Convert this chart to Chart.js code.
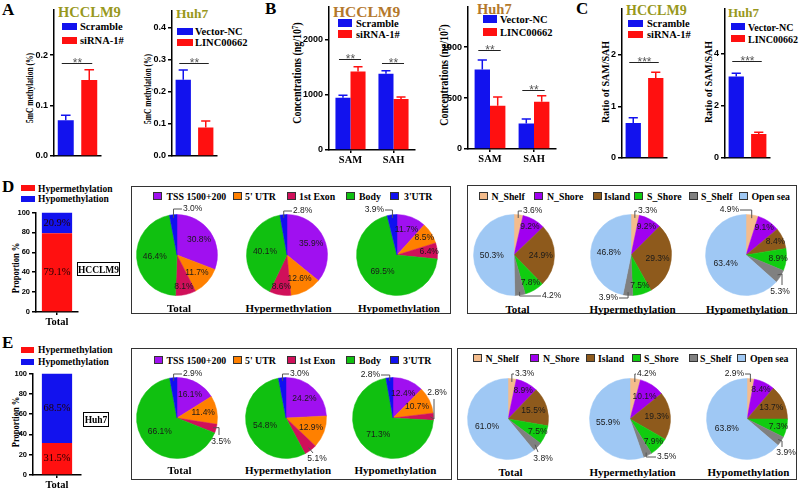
<!DOCTYPE html>
<html><head><meta charset="utf-8">
<script src="https://cdn.jsdelivr.net/npm/chart.js@4.4.1/dist/chart.umd.min.js"></script>
<style>
html,body{margin:0;padding:0;background:#fff;}
#root{position:relative;width:800px;height:488px;overflow:hidden;background:#fff;}
.abs{position:absolute;white-space:nowrap;line-height:1;}
canvas{position:absolute;}
sup{font-size:65%;vertical-align:0.45em;line-height:0;}
</style></head><body><div id="root"></div>
<script>
// ================= DATA =================
// Panel A: 5mC methylation (%)
const aGroupsHCCLM9 = ['Scramble', 'siRNA-1#'];
const aMeanHCCLM9 = [0.071, 0.151];
const aSdHCCLM9 = [0.010, 0.020];
const aSigHCCLM9 = [0.184];
const aTicksHCCLM9 = [0, 0.1, 0.2];
const aGroupsHuh7 = ['Vector-NC', 'LINC00662'];
const aMeanHuh7 = [0.238, 0.089];
const aSdHuh7 = [0.031, 0.020];
const aSigHuh7 = [0.292];
const aTicksHuh7 = [0, 0.1, 0.2, 0.3, 0.4];
// Panel B: concentrations (ng/10^7)
const bCats = ['SAM', 'SAH'];
const bScrambleHCCLM9 = [948, 1387];
const bScrambleSdHCCLM9 = [45, 55];
const bSiRNAHCCLM9 = [1428, 925];
const bSiRNASdHCCLM9 = [85, 40];
const bSigHCCLM9 = [1660, 1580];
const bTicksHCCLM9 = [0, 1000, 2000];
const bVectorHuh7 = [780, 250];
const bVectorSdHuh7 = [95, 45];
const bLincHuh7 = [425, 465];
const bLincSdHuh7 = [85, 58];
const bSigHuh7 = [968, 580];
const bTicksHuh7 = [0, 500, 1000];
// Panel C: ratio of SAM/SAH
const cMeanHCCLM9 = [0.68, 1.55];
const cSdHCCLM9 = [0.10, 0.11];
const cSigHCCLM9 = [1.86];
const cTicksHCCLM9 = [0, 1, 2];
const cMeanHuh7 = [3.12, 0.92];
const cSdHuh7 = [0.13, 0.07];
const cSigHuh7 = [3.72];
const cTicksHuh7 = [0, 2, 4];
// Panels D/E: proportion %
const stackCats = ['Total'];
const dHyper = [79.1];
const dHypo = [20.9];
const eHyper = [31.5];
const eHypo = [68.5];
const propTicks = [0, 20, 40, 60, 80, 100];
// Pies
const regionLabels = ['TSS 1500+200', "5' UTR", '1st Exon', 'Body', "3'UTR"];
const cpgLabels = ['N_Shelf', 'N_Shore', 'Island', 'S_Shore', 'S_Shelf', 'Open sea'];
const pieTitles = ['Total', 'Hypermethylation', 'Hypomethylation'];
const dRegionTotal = [30.8, 11.7, 8.1, 46.4, 3.0];
const dRegionHyper = [35.9, 12.6, 8.6, 40.1, 2.8];
const dRegionHypo  = [11.7, 8.5, 6.4, 69.5, 3.9];
const dCpgTotal = [3.6, 9.2, 24.9, 7.8, 4.2, 50.3];
const dCpgHyper = [3.3, 9.2, 29.3, 7.5, 3.9, 46.8];
const dCpgHypo  = [4.9, 9.1, 8.4, 8.9, 5.3, 63.4];
const eRegionTotal = [16.1, 11.4, 3.5, 66.1, 2.9];
const eRegionHyper = [24.2, 12.9, 5.1, 54.8, 3.0];
const eRegionHypo  = [12.4, 10.7, 2.8, 71.3, 2.8];
const eCpgTotal = [3.3, 8.9, 15.5, 7.5, 3.8, 61.0];
const eCpgHyper = [4.2, 10.1, 19.3, 7.9, 3.5, 55.9];
const eCpgHypo  = [2.9, 8.4, 13.7, 7.3, 3.9, 63.8];

// ================= STYLE =================
const SERIF = '"Liberation Serif","Times New Roman",serif';
const SANS = '"Liberation Sans",Arial,sans-serif';
const BLUE = '#1212EE', RED = '#FF1010';
const OLIVE = '#98981C', BROWN = '#B4782C';
const regionColors = ['#A010F0', '#FF8000', '#D0105A', '#10C010', '#1010F0'];
const cpgColors = ['#F4BC8C', '#A000F0', '#8E5A1C', '#10CC10', '#808080', '#9FC8F4'];
Chart.defaults.animation = false;
Chart.defaults.font.family = SANS;

const root = document.getElementById('root');
function txt(x, base, s, o = {}) {
  const size = o.size || 10, serif = o.serif !== false;
  const d = document.createElement('div'); d.className = 'abs';
  d.style.font = `${o.weight || 'bold'} ${size}px ${serif ? SERIF : SANS}`;
  d.style.color = o.color || '#000';
  d.innerHTML = s;
  d.style.top = (base - (serif ? 0.8375 : 0.8465) * size) + 'px';
  if (o.align === 'center') { d.style.left = x + 'px'; d.style.transform = 'translateX(-50%)'; }
  else d.style.left = x + 'px';
  root.appendChild(d); return d;
}
function vtxt(cx, cy, s, size, sy) {
  const d = document.createElement('div'); d.className = 'abs';
  d.style.font = `bold ${size}px ${SERIF}`;
  d.innerHTML = s;
  d.style.left = cx + 'px'; d.style.top = cy + 'px';
  d.style.transform = `translate(-50%,-50%) rotate(-90deg) scaleY(${sy || 1})`;
  root.appendChild(d);
}
function rect(x, y, w, h, bg, border) {
  const d = document.createElement('div'); d.className = 'abs';
  Object.assign(d.style, {left: x + 'px', top: y + 'px', width: w + 'px', height: h + 'px', boxSizing: 'border-box', background: bg || 'transparent'});
  if (border) d.style.border = border;
  root.appendChild(d); return d;
}
function makeCanvas(left, top, w, h) {
  const cv = document.createElement('canvas');
  cv.width = w; cv.height = h;
  Object.assign(cv.style, {left: left + 'px', top: top + 'px', width: w + 'px', height: h + 'px'});
  root.appendChild(cv); return cv;
}

// ================= PLUGINS =================
const errPlugin = {
  id: 'errsig',
  afterDatasetsDraw(chart, args, opts) {
    const ctx = chart.ctx, ys = chart.scales.y;
    chart.data.datasets.forEach((ds, di) => {
      if (!ds.err) return;
      chart.getDatasetMeta(di).data.forEach((bar, i) => {
        const yTop = ys.getPixelForValue(ds.data[i] + ds.err[i]);
        const cw = bar.width * 0.6;
        ctx.save(); ctx.strokeStyle = ds.backgroundColor; ctx.lineWidth = 1.5;
        ctx.beginPath();
        ctx.moveTo(bar.x, bar.y); ctx.lineTo(bar.x, yTop);
        ctx.moveTo(bar.x - cw / 2, yTop); ctx.lineTo(bar.x + cw / 2, yTop);
        ctx.stroke(); ctx.restore();
      });
    });
    (opts.sig || []).forEach((lvl, ci) => {
      const b0 = chart.getDatasetMeta(0).data[ci], b1 = chart.getDatasetMeta(1).data[ci];
      const y = Math.round(ys.getPixelForValue(lvl)) + 0.5;
      ctx.save(); ctx.strokeStyle = '#222'; ctx.lineWidth = 1;
      ctx.beginPath(); ctx.moveTo(b0.x - 4, y); ctx.lineTo(b1.x + 3, y); ctx.stroke();
      ctx.fillStyle = '#555'; ctx.font = '12px ' + SANS; ctx.textAlign = 'center'; ctx.textBaseline = 'alphabetic';
      ctx.fillText(opts.stars[ci], (b0.x + b1.x) / 2, y + 3);
      ctx.restore();
    });
  }
};
const segPlugin = {
  id: 'seglabels',
  afterDatasetsDraw(chart) {
    const ctx = chart.ctx;
    chart.data.datasets.forEach((ds, di) => {
      chart.getDatasetMeta(di).data.forEach((bar, i) => {
        ctx.save(); ctx.fillStyle = '#200'; ctx.font = '10.5px ' + SERIF;
        ctx.textAlign = 'center'; ctx.textBaseline = 'middle';
        ctx.fillText(ds.data[i].toFixed(1) + '%', bar.x, (bar.y + bar.base) / 2);
        ctx.restore();
      });
    });
  }
};
const pieLabelPlugin = {
  id: 'pielab',
  afterDatasetsDraw(chart, args, opts) {
    const ctx = chart.ctx, data = chart.data.datasets[0].data, outs = opts.outside || {};
    chart.getDatasetMeta(0).data.forEach((arc, i) => {
      const p = arc.getProps(['x', 'y', 'startAngle', 'endAngle', 'outerRadius'], true);
      const mid = (p.startAngle + p.endAngle) / 2, r = p.outerRadius;
      const s = data[i].toFixed(1) + '%';
      ctx.save(); ctx.font = '8.5px ' + SANS; ctx.fillStyle = '#1a1a1a'; ctx.textBaseline = 'middle';
      const o = outs[i];
      if (!o) {
        const f = data[i] > 40 ? 0.55 : (data[i] < 10 ? 0.8 : 0.66);
        ctx.textAlign = 'center';
        ctx.fillText(s, p.x + Math.cos(mid) * r * f, p.y + Math.sin(mid) * r * f);
      } else {
        const ax = p.x + Math.cos(mid) * r * 0.92, ay = p.y + Math.sin(mid) * r * 0.92;
        const tx = p.x + o.tx, ty = p.y + o.ty;
        ctx.strokeStyle = '#555'; ctx.lineWidth = 1;
        ctx.beginPath(); ctx.moveTo(ax, ay);
        if (o.m === 'vh') {
          ctx.lineTo(ax, ty); ctx.lineTo(o.a === 'left' ? tx - 1 : tx + 1, ty);
        } else {
          o.pts.forEach(q => ctx.lineTo(p.x + q[0], p.y + q[1]));
        }
        ctx.stroke();
        ctx.textAlign = o.a;
        ctx.fillText(s, tx, ty);
      }
      ctx.restore();
    });
  }
};

// ================= CHART BUILDERS =================
function barChart(o) {
  const yW = o.yW || 30, padTop = 6, padR = 10, xH = 18;
  const left = o.x0 - yW, top = o.yTop - padTop;
  const w = o.x1 + padR - left, h = o.yBot + xH - top;
  const cv = makeCanvas(left, top, w, h);
  new Chart(cv, {
    type: 'bar',
    data: {labels: o.labels, datasets: o.datasets.map(d => ({
      data: d.data, err: d.err, backgroundColor: d.color, borderWidth: 0,
      categoryPercentage: o.cp, barPercentage: o.bp, stack: o.stacked ? 's' : undefined}))},
    options: {
      responsive: false, devicePixelRatio: 1, animation: false,
      layout: {padding: {left: 0, top: padTop, right: padR, bottom: 0}},
      plugins: {legend: {display: false}, tooltip: {enabled: false}, errsig: {sig: o.sig || [], stars: o.stars || []}},
      scales: {
        x: {
          stacked: !!o.stacked,
          grid: {display: !!o.showX, offset: false, drawOnChartArea: false, drawTicks: true, tickLength: 3, color: '#000', lineWidth: 1.5},
          border: {display: true, color: '#000', width: 1.5},
          ticks: {display: !!o.showX, font: {family: SERIF, weight: 'bold', size: o.xFont || 10.5}, color: '#000', padding: 1, maxRotation: 0},
          afterFit(s) { s.height = xH; }
        },
        y: {
          stacked: !!o.stacked, min: 0, max: o.max,
          grid: {drawOnChartArea: false, drawTicks: true, tickLength: 4, color: '#000', lineWidth: 1.5},
          border: {display: true, color: '#000', width: 1.5},
          ticks: {font: {family: SANS, weight: 'bold', size: o.yFont || 9}, color: '#000', padding: 2,
            callback: v => v.toFixed(o.dec || 0)},
          afterBuildTicks(s) { s.ticks = o.ticks.map(v => ({value: v})); },
          afterFit(s) { s.width = yW; }
        }
      }
    },
    plugins: o.stacked ? [segPlugin] : [errPlugin]
  });
}
function pie(cx, cy, values, colors, outside) {
  const W = 130, H = 116;
  const cv = makeCanvas(cx - W / 2, cy - H / 2, W, H);
  new Chart(cv, {
    type: 'pie',
    data: {labels: values.map((_, i) => i), datasets: [{data: values, backgroundColor: colors, borderColor: colors, borderWidth: 0.5}]},
    options: {responsive: false, devicePixelRatio: 1, animation: false, radius: 40.5,
      layout: {padding: 0},
      plugins: {legend: {display: false}, tooltip: {enabled: false}, pielab: {outside}}},
    plugins: [pieLabelPlugin]
  });
}
function legend(items, base, size) {
  items.forEach(it => {
    rect(it.sx, base - 7.5, 9, 8, it.color, '1px solid #333');
    txt(it.tx, base, it.label, {size});
  });
}

// ================= PANEL LETTERS & TITLES =================
txt(2, 14, 'A', {size: 17}); txt(265, 13, 'B', {size: 17}); txt(576, 13, 'C', {size: 17});
txt(2, 191, 'D', {size: 17}); txt(2, 347, 'E', {size: 17});
txt(58, 16.5, 'HCCLM9', {size: 14.5, color: OLIVE});
txt(176, 17.5, 'Huh7', {size: 13.5, color: OLIVE});
txt(333, 15.5, 'HCCLM9', {size: 15.5, color: BROWN});
txt(477, 13.5, 'Huh7', {size: 14.5, color: BROWN});
txt(626, 14.5, 'HCCLM9', {size: 14, color: OLIVE});
txt(728, 15.5, 'Huh7', {size: 13, color: OLIVE});

// top-row legends
function topLegend(x, tx, y1, y2, names, size, sw, sh) {
  rect(x, y1 - sh, sw, sh, BLUE); txt(tx, y1, names[0], {size});
  rect(x, y2 - sh, sw, sh, RED); txt(tx, y2, names[1], {size});
}
topLegend(62, 80, 30, 44, aGroupsHCCLM9, 10.5, 15, 7);
topLegend(177, 195, 35, 46, aGroupsHuh7, 10.5, 16, 7);
topLegend(338, 356, 27, 38, aGroupsHCCLM9, 10.5, 14, 8);
topLegend(483, 500, 23, 36, aGroupsHuh7, 10.5, 14, 8);
topLegend(628, 647, 27, 38, aGroupsHCCLM9, 10.5, 15, 7);
topLegend(731, 748, 30, 42, aGroupsHuh7, 10, 14, 7);

// y-axis titles
vtxt(30, 88, '5mC methylation (%)', 7.5, 1.3);
vtxt(148, 89, '5mC methylation (%)', 7.5, 1.3);
vtxt(297, 73, 'Concentrations (ng/10<sup>7</sup>)', 10, 1.15);
vtxt(444, 75, 'Concentrations (ng/10<sup>7</sup>)', 10, 1.15);
vtxt(605, 82, 'Ratio of SAM/SAH', 10, 1.1);
vtxt(708, 82, 'Ratio of SAM/SAH', 10, 1.1);
vtxt(15, 268, 'Proportion %', 8.5, 1.2);
vtxt(15, 422, 'Proportion %', 8.5, 1.2);

// ================= TOP BAR CHARTS =================
barChart({x0: 54, x1: 101, yTop: 8, yBot: 156, max: 0.291, ticks: aTicksHCCLM9, dec: 1, labels: [''],
  datasets: [{data: [aMeanHCCLM9[0]], err: [aSdHCCLM9[0]], color: BLUE}, {data: [aMeanHCCLM9[1]], err: [aSdHCCLM9[1]], color: RED}],
  cp: 1.0, bp: 0.68, sig: aSigHCCLM9, stars: ['**']});
barChart({x0: 172, x1: 217, yTop: 9, yBot: 156, max: 0.455, ticks: aTicksHuh7, dec: 1, labels: [''],
  datasets: [{data: [aMeanHuh7[0]], err: [aSdHuh7[0]], color: BLUE}, {data: [aMeanHuh7[1]], err: [aSdHuh7[1]], color: RED}],
  cp: 1.0, bp: 0.68, sig: aSigHuh7, stars: ['**']});
barChart({x0: 329, x1: 415, yTop: 5, yBot: 150, max: 2610, ticks: bTicksHCCLM9, labels: bCats, showX: true,
  datasets: [{data: bScrambleHCCLM9, err: bScrambleSdHCCLM9, color: BLUE}, {data: bSiRNAHCCLM9, err: bSiRNASdHCCLM9, color: RED}],
  cp: 0.7, bp: 1.0, sig: bSigHCCLM9, stars: ['**', '**']});
barChart({x0: 468, x1: 556, yTop: 5, yBot: 149, max: 1400, ticks: bTicksHuh7, labels: bCats, showX: true,
  datasets: [{data: bVectorHuh7, err: bVectorSdHuh7, color: BLUE}, {data: bLincHuh7, err: bLincSdHuh7, color: RED}],
  cp: 0.7, bp: 1.0, sig: bSigHuh7, stars: ['**', '**']});
barChart({x0: 622, x1: 667, yTop: 7, yBot: 158, max: 2.9, ticks: cTicksHCCLM9, labels: [''],
  datasets: [{data: [cMeanHCCLM9[0]], err: [cSdHCCLM9[0]], color: BLUE}, {data: [cMeanHCCLM9[1]], err: [cSdHCCLM9[1]], color: RED}],
  cp: 1.0, bp: 0.68, sig: cSigHCCLM9, stars: ['***']});
barChart({x0: 725, x1: 770, yTop: 7, yBot: 158, max: 5.73, ticks: cTicksHuh7, labels: [''],
  datasets: [{data: [cMeanHuh7[0]], err: [cSdHuh7[0]], color: BLUE}, {data: [cMeanHuh7[1]], err: [cSdHuh7[1]], color: RED}],
  cp: 1.0, bp: 0.68, sig: cSigHuh7, stars: ['***']});

// ================= STACKED D / E =================
rect(21, 184.5, 14, 6, RED); txt(38, 191.5, 'Hypermethylation', {size: 9.5});
rect(21, 196, 14, 6, BLUE); txt(38, 202, 'Hypomethylation', {size: 9.5});
rect(21, 346.5, 13, 6, RED); txt(38, 352.5, 'Hypermethylation', {size: 9.5});
rect(21, 359, 13, 6, BLUE); txt(38, 365, 'Hypomethylation', {size: 9.5});
barChart({x0: 36, x1: 78, yTop: 212, yBot: 312, max: 100, ticks: propTicks, labels: stackCats, showX: true, stacked: true,
  datasets: [{data: dHyper, color: RED}, {data: dHypo, color: BLUE}], cp: 0.72, bp: 1.0, yW: 24, yFont: 7.5, xFont: 10.5});
barChart({x0: 33, x1: 81, yTop: 373, yBot: 475, max: 100, ticks: propTicks, labels: stackCats, showX: true, stacked: true,
  datasets: [{data: eHyper, color: RED}, {data: eHypo, color: BLUE}], cp: 0.63, bp: 1.0, yW: 22, yFont: 7.5, xFont: 10.5});
rect(77, 262, 43, 14, '#fff', '1.5px solid #000');
txt(98.5, 272.5, 'HCCLM9', {size: 9.5, align: 'center'});
rect(83, 412, 26, 15, '#fff', '1.5px solid #000');
txt(96, 423, 'Huh7', {size: 9.5, align: 'center'});

// ================= PIE BOXES =================
rect(131, 186, 320, 128, 'transparent', '1.5px solid #333');
rect(467, 185, 330, 129, 'transparent', '1.5px solid #333');
rect(131, 348, 321, 132, 'transparent', '1.5px solid #333');
rect(457, 348, 340, 132, 'transparent', '1.5px solid #333');

legend([
  {sx: 153, tx: 166.5, label: regionLabels[0], color: regionColors[0]},
  {sx: 233, tx: 245, label: regionLabels[1], color: regionColors[1]},
  {sx: 287, tx: 299, label: regionLabels[2], color: regionColors[2]},
  {sx: 346, tx: 359, label: regionLabels[3], color: regionColors[3]},
  {sx: 390, tx: 404, label: regionLabels[4], color: regionColors[4]}], 199.5, 9.8);
legend([
  {sx: 479, tx: 491.5, label: cpgLabels[0], color: cpgColors[0]},
  {sx: 534, tx: 547, label: cpgLabels[1], color: cpgColors[1]},
  {sx: 592.5, tx: 604, label: cpgLabels[2], color: cpgColors[2]},
  {sx: 634, tx: 647, label: cpgLabels[3], color: cpgColors[3]},
  {sx: 689, tx: 701, label: cpgLabels[4], color: cpgColors[4]},
  {sx: 739, tx: 751.5, label: cpgLabels[5], color: cpgColors[5]}], 199.5, 9.8);
legend([
  {sx: 154, tx: 166.5, label: regionLabels[0], color: regionColors[0]},
  {sx: 233, tx: 245, label: regionLabels[1], color: regionColors[1]},
  {sx: 287, tx: 299, label: regionLabels[2], color: regionColors[2]},
  {sx: 346, tx: 359, label: regionLabels[3], color: regionColors[3]},
  {sx: 390, tx: 403, label: regionLabels[4], color: regionColors[4]}], 363, 9.8);
legend([
  {sx: 473, tx: 485.5, label: cpgLabels[0], color: cpgColors[0]},
  {sx: 530, tx: 543, label: cpgLabels[1], color: cpgColors[1]},
  {sx: 586, tx: 598, label: cpgLabels[2], color: cpgColors[2]},
  {sx: 632, tx: 644, label: cpgLabels[3], color: cpgColors[3]},
  {sx: 689, tx: 700, label: cpgLabels[4], color: cpgColors[4]},
  {sx: 737, tx: 750, label: cpgLabels[5], color: cpgColors[5]}], 361.5, 9.8);

// pie subtitles
[[179, 311], [288.5, 311], [399, 311]].forEach((p, i) => txt(p[0], p[1], pieTitles[i], {size: 11, align: 'center'}));
[[517.5, 312], [632.5, 312], [747, 312]].forEach((p, i) => txt(p[0], p[1], pieTitles[i], {size: 11, align: 'center'}));
[[179.5, 473], [288, 473], [395.5, 473]].forEach((p, i) => txt(p[0], p[1], pieTitles[i], {size: 11, align: 'center'}));
[[510.5, 475.5], [632.5, 475.5], [748.5, 475.5]].forEach((p, i) => txt(p[0], p[1], pieTitles[i], {size: 11, align: 'center'}));

// pies
pie(177, 255, dRegionTotal, regionColors, {4: {m: 'vh', tx: 6, ty: -46, a: 'left'}});
pie(287, 255, dRegionHyper, regionColors, {4: {m: 'vh', tx: 6, ty: -44, a: 'left'}});
pie(397, 255, dRegionHypo, regionColors, {4: {m: 'vh', tx: -13, ty: -45, a: 'right'}});
pie(514, 255, dCpgTotal, cpgColors, {0: {m: 'vh', tx: 9, ty: -44, a: 'left'}, 4: {m: 'vh', tx: 28, ty: 41, a: 'left'}});
pie(631, 255, dCpgHyper, cpgColors, {0: {m: 'vh', tx: 7, ty: -44, a: 'left'}, 4: {m: 'vh', tx: -13, ty: 43, a: 'right'}});
pie(746, 255, dCpgHypo, cpgColors, {0: {m: 'vh', tx: -7, ty: -45, a: 'right'}, 4: {m: 'p', pts: [[36, 19], [36, 30]], tx: 34, ty: 37, a: 'center'}});
pie(177, 418, eRegionTotal, regionColors, {4: {m: 'vh', tx: 6, ty: -44, a: 'left'}, 2: {m: 'p', pts: [[42, 9.6], [42, 17]], tx: 44, ty: 24, a: 'center'}});
pie(286, 418, eRegionHyper, regionColors, {4: {m: 'vh', tx: 4, ty: -44, a: 'left'}, 2: {m: 'p', pts: [[27, 35]], tx: 31, ty: 41, a: 'center'}});
pie(393, 418, eRegionHypo, regionColors, {4: {m: 'vh', tx: -13, ty: -43, a: 'right'}, 2: {m: 'p', pts: [[41, 1], [41, -19]], tx: 44, ty: -25, a: 'center'}});
pie(508, 419, eCpgTotal, cpgColors, {0: {m: 'vh', tx: 7, ty: -45, a: 'left'}, 4: {m: 'p', pts: [[30, 33]], tx: 35, ty: 40, a: 'center'}});
pie(630, 419, eCpgHyper, cpgColors, {0: {m: 'vh', tx: 7, ty: -45, a: 'left'}, 4: {m: 'vh', tx: 27, ty: 38, a: 'left'}});
pie(747, 419, eCpgHypo, cpgColors, {0: {m: 'vh', tx: -3, ty: -45, a: 'right'}, 4: {m: 'p', pts: [[35, 22], [35, 28]], tx: 39, ty: 34, a: 'center'}});
</script>
</body></html>
